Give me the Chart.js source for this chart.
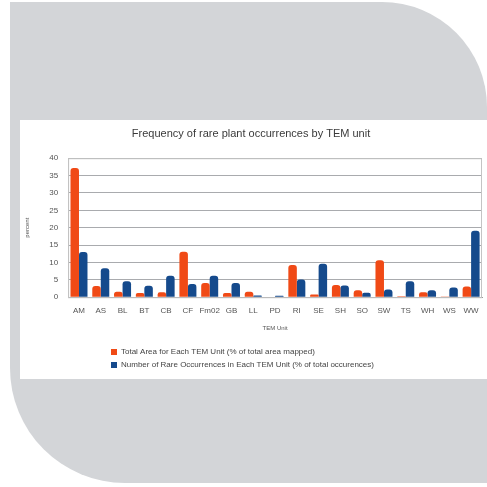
<!DOCTYPE html>
<html>
<head>
<meta charset="utf-8">
<script src="https://cdn.jsdelivr.net/npm/chart.js@4/dist/chart.umd.min.js"></script>
<style>
  html, body { margin: 0; padding: 0; background: #fff; }
  body { width: 487px; height: 487px; position: relative; overflow: hidden; }
  #bg {
    position: absolute; left: 10px; top: 2px; width: 477px; height: 481px;
    background: #d3d5d8;
    border-radius: 0 105px 0 115px;
  }
  #panel {
    position: absolute; left: 20px; top: 120px; width: 467px; height: 259px;
    background: #fff;
  }
  #chart { display: block; }
</style>
</head>
<body>
<div id="bg"></div>
<div id="panel"><canvas id="chart" width="467" height="259"></canvas></div>
<script>
const units = ['AM', 'AS', 'BL', 'BT', 'CB', 'CF', 'Fm02', 'GB', 'LL', 'PD', 'RI', 'SE', 'SH', 'SO', 'SW', 'TS', 'WH', 'WS', 'WW'];
const areaPct = [37.2, 3.2, 1.6, 1.2, 1.4, 13.1, 4.1, 1.2, 1.6, 0.1, 9.3, 0.8, 3.5, 2.0, 10.6, 0.3, 1.4, 0.2, 3.1];
const occurrencePct = [13.0, 8.3, 4.6, 3.3, 6.2, 3.8, 6.2, 4.1, 0.5, 0.4, 5.1, 9.6, 3.4, 1.3, 2.2, 4.6, 2.0, 2.8, 19.1];
const yTicks = [0, 5, 10, 15, 20, 25, 30, 35, 40];

const ctx = document.getElementById('chart').getContext('2d');

// horizontal shading so the bars look a bit rounded like the original
function shade(light, mid, dark) {
  return (c) => {
    const el = c.element;
    if (!el || el.width === undefined || !isFinite(el.x)) return mid;
    const g = c.chart.ctx.createLinearGradient(el.x - el.width / 2, 0, el.x + el.width / 2, 0);
    g.addColorStop(0, mid);
    g.addColorStop(0.35, light);
    g.addColorStop(1, dark);
    return g;
  };
}

new Chart(ctx, {
  type: 'bar',
  data: {
    labels: units,
    datasets: [
      {
        label: 'Total Area for Each TEM Unit (% of total area mapped)',
        data: areaPct,
        backgroundColor: shade('#ff6a35', '#f04a16', '#c9330a'),
        borderRadius: { topLeft: 3, topRight: 3 },
        borderSkipped: 'bottom',
        categoryPercentage: 0.78,
        barPercentage: 1.0
      },
      {
        label: 'Number of Rare Occurrences in Each TEM Unit (% of total occurences)',
        data: occurrencePct,
        backgroundColor: shade('#2a62a8', '#154a8c', '#0c3366'),
        borderRadius: { topLeft: 3, topRight: 3 },
        borderSkipped: 'bottom',
        categoryPercentage: 0.78,
        barPercentage: 1.0
      }
    ]
  },
  options: {
    responsive: false,
    animation: false,
    layout: { padding: { left: 0, right: 5, top: 2, bottom: 0 } },
    plugins: {
      title: {
        display: true,
        text: 'Frequency of rare plant occurrences by TEM unit',
        color: '#3a3a3a',
        font: { family: 'Liberation Sans', size: 11, weight: 'normal' },
        padding: { top: 5, bottom: 18 }
      },
      legend: {
        position: 'bottom',
        align: 'start',
        labels: {
          boxWidth: 6,
          boxHeight: 6,
          padding: 5,
          color: '#444',
          font: { family: 'Liberation Sans', size: 8 },
          generateLabels: (chart) => chart.data.datasets.map((ds, i) => ({
            text: ds.label,
            fillStyle: i === 0 ? '#f04a16' : '#154a8c',
            strokeStyle: i === 0 ? '#f04a16' : '#154a8c',
            lineWidth: 0,
            datasetIndex: i,
            fontColor: '#444'
          }))
        }
      },
      tooltip: { enabled: false }
    },
    scales: {
      x: {
        grid: { display: false },
        border: { color: '#999' },
        ticks: {
          color: '#555',
          font: { family: 'Liberation Sans', size: 8 },
          maxRotation: 0,
          autoSkip: false,
          padding: 1
        },
        title: {
          display: true,
          text: 'TEM Unit',
          color: '#555',
          font: { family: 'Liberation Sans', size: 6 },
          padding: { top: 8, bottom: 11 }
        }
      },
      y: {
        min: 0,
        max: 40,
        afterBuildTicks: (axis) => { axis.ticks = yTicks.map(v => ({ value: v })); },
        grid: { color: '#a9abae', drawTicks: false },
        border: { color: '#b5b5b5' },
        ticks: {
          color: '#555',
          font: { family: 'Liberation Sans', size: 8 },
          padding: 10
        },
        title: {
          display: true,
          text: 'percent',
          color: '#555',
          font: { family: 'Liberation Sans', size: 6 },
          padding: { bottom: 8 }
        }
      }
    }
  },
  plugins: [{
    id: 'frame',
    afterLayout(chart) {
      // legend rows start under the middle of the plot, left aligned
      const lg = chart.legend;
      if (lg) lg.left = 86;
    },
    afterDraw(chart) {
      const a = chart.chartArea, c = chart.ctx;
      c.save();
      c.strokeStyle = '#c4c4c4';
      c.lineWidth = 1;
      c.strokeRect(a.left + 0.5, a.top + 0.5, a.right - a.left - 1, a.bottom - a.top);
      c.restore();
    }
  }]
});
</script>
</body>
</html>
